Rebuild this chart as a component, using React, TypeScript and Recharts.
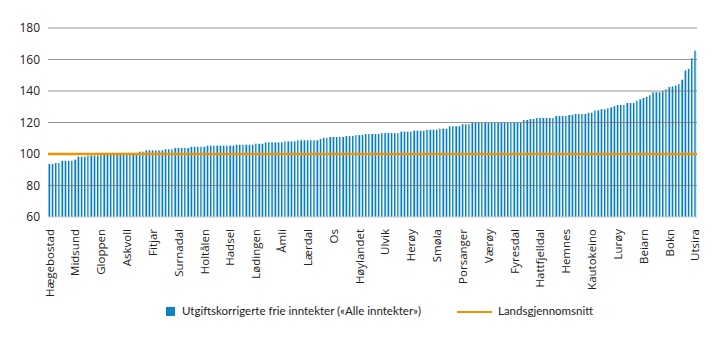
import {
  ComposedChart,
  Bar,
  XAxis,
  YAxis,
  ReferenceLine,
} from "recharts";

// every 8th municipality gets a tick label
const TICK_LABELS = [
  "Hægebostad", "Midsund", "Gloppen", "Askvoll", "Fitjar", "Surnadal",
  "Holtålen", "Hadsel", "Lødingen", "Åmli", "Lærdal", "Os", "Høylandet",
  "Ulvik", "Herøy", "Smøla", "Porsanger", "Værøy", "Fyresdal", "Hattfjelldal",
  "Hemnes", "Kautokeino", "Lurøy", "Beiarn", "Bokn", "Utsira",
];

// runs of [value, count], sorted ascending (index relative to landsgjennomsnitt = 100)
const VALUE_RUNS: [number, number][] = [
  [93.7, 2], [94.3, 2], [95.7, 4], [96.4, 1], [98.3, 3], [99.0, 4],
  [99.9, 9], [100.7, 3], [101.5, 2], [102.3, 6], [103.0, 3], [103.8, 5],
  [104.6, 5], [105.3, 9], [105.9, 6], [106.5, 3], [107.4, 6], [108.0, 4],
  [108.7, 7], [109.5, 1], [110.3, 2], [110.8, 5], [111.4, 3], [112.0, 3],
  [112.7, 5], [113.3, 6], [114.2, 4], [114.8, 4], [115.4, 4], [116.1, 3],
  [117.6, 4], [118.9, 3], [119.7, 16], [121.6, 2], [122.2, 2], [122.9, 6],
  [124.1, 4], [124.8, 2], [125.4, 4], [126.2, 2], [127.7, 2], [128.4, 2],
  [129.0, 1], [129.6, 1], [130.3, 1], [131.1, 3], [132.4, 3], [133.8, 1],
  [134.7, 1], [135.6, 1], [136.4, 1], [137.3, 1], [139.2, 3], [140.0, 1],
  [141.1, 1], [142.5, 1], [142.9, 1], [143.5, 1], [144.4, 1], [147.2, 1],
  [153.0, 1], [154.0, 1], [160.8, 1], [165.6, 1],
];

const Y_TICKS = [60, 80, 100, 120, 140, 160, 180];
const NATIONAL_AVERAGE = 100;

const values: number[] = VALUE_RUNS.flatMap(([v, n]) => Array(n).fill(v));
const data = values.map((v, i) => ({
  idx: i,
  name: i % 8 === 0 ? TICK_LABELS[i / 8] ?? "" : "",
  value: v,
}));

const FONT = "'Open Sans', 'Noto Sans', sans-serif";
const LEGEND_FONT = "Lato, 'Open Sans', sans-serif";

function XTick({ x, y, payload }: any) {
  const label = data[payload.value]?.name;
  if (!label) return null;
  return (
    <text
      x={x}
      y={y + 4}
      dy="0.35em"
      transform={`rotate(-90, ${x}, ${y + 4})`}
      textAnchor="end"
      fill="#222"
      fontSize={11.5}
      fontFamily={FONT}
    >
      {label}
    </text>
  );
}

export default function App() {
  return (
    <div
      style={{
        position: "absolute",
        left: 0,
        top: 0,
        width: 719,
        height: 341,
        background: "#fff",
        fontFamily: FONT,
      }}
    >
      <ComposedChart
        width={719}
        height={341}
        data={data}
        margin={{ top: 28, right: 22, left: 8, bottom: 0 }}
        barCategoryGap="16%"
      >
        <defs>
          <linearGradient id="barFill" x1="0" y1="0" x2="1" y2="0">
            <stop offset="0%" stopColor="#0a7cbb" />
            <stop offset="58%" stopColor="#0a7cbb" />
            <stop offset="62%" stopColor="#7cc3e8" />
            <stop offset="100%" stopColor="#7cc3e8" />
          </linearGradient>
        </defs>
        <XAxis
          dataKey="idx"
          type="category"
          interval={0}
          height={124}
          axisLine={false}
          tickLine={false}
          tick={<XTick />}
        />
        <YAxis
          domain={[60, 180]}
          ticks={Y_TICKS}
          width={40}
          axisLine={false}
          tickLine={false}
          tick={{ fill: "#222", fontSize: 12, fontFamily: FONT }}
        />
        <Bar
          dataKey="value"
          fill="url(#barFill)"
          isAnimationActive={false}
        />
        {Y_TICKS.filter((t) => t !== NATIONAL_AVERAGE).map((t) => (
          <ReferenceLine
            key={t}
            y={t}
            stroke={t === 60 ? "#cfcfcf" : "#707070"}
            strokeOpacity={t === 60 ? 1 : 0.75}
            strokeWidth={1}
          />
        ))}
        <ReferenceLine y={NATIONAL_AVERAGE} stroke="#f39200" strokeWidth={2.5} />
      </ComposedChart>
      <div
        style={{
          position: "absolute",
          top: 304,
          left: 0,
          width: 719,
          fontSize: 11.5,
          fontFamily: LEGEND_FONT,
          color: "#222",
        }}
      >
        <span
          style={{
            position: "absolute",
            left: 166,
            top: 3,
            width: 9,
            height: 9,
            background: "#0a84c4",
          }}
        />
        <span style={{ position: "absolute", left: 182, top: 0, whiteSpace: "nowrap" }}>
          Utgiftskorrigerte frie inntekter («Alle inntekter»)
        </span>
        <span
          style={{
            position: "absolute",
            left: 457,
            top: 7,
            width: 35,
            height: 2,
            background: "#f39200",
          }}
        />
        <span style={{ position: "absolute", left: 498, top: 0, whiteSpace: "nowrap" }}>
          Landsgjennomsnitt
        </span>
      </div>
    </div>
  );
}
